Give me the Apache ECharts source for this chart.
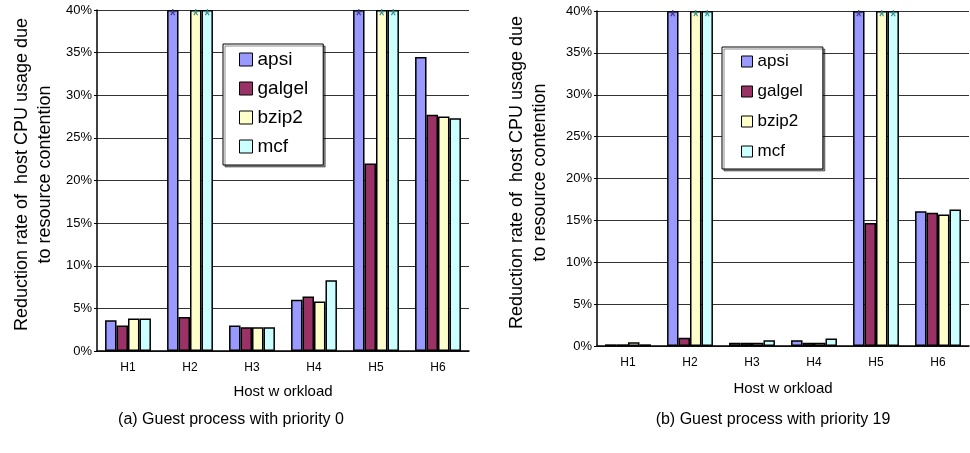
<!DOCTYPE html>
<html>
<head>
<meta charset="utf-8">
<script src="https://cdn.jsdelivr.net/npm/echarts@6/dist/echarts.min.js"></script>
<style>
  html, body { margin: 0; padding: 0; background: #fff; }
  #chart { width: 970px; height: 453px; }
</style>
</head>
<body>
<div id="chart"></div>
<script>
// Host workloads on the x axis, guest benchmarks as the bar series
const hosts = ['H1', 'H2', 'H3', 'H4', 'H5', 'H6'];
const guests = ['apsi', 'galgel', 'bzip2', 'mcf'];

// Bars that run past the top of the 0-40% axis are drawn at the cap and flagged with '*'
const OVER = 40;

// (a) guest process with priority 0 — reduction rate in %
const apsiP0   = [3.6, OVER, 3.0, 6.0, OVER, 34.5];
const galgelP0 = [3.0, 4.0, 2.8, 6.4, 22.0, 27.7];
const bzip2P0  = [3.8, OVER, 2.8, 5.8, OVER, 27.5];
const mcfP0    = [3.8, OVER, 2.8, 8.3, OVER, 27.3];

// (b) guest process with priority 19 — reduction rate in %
const apsiP19   = [0.2, OVER, 0.4, 0.7, OVER, 16.1];
const galgelP19 = [0.2, 1.0, 0.4, 0.4, 14.7, 15.9];
const bzip2P19  = [0.45, OVER, 0.4, 0.4, OVER, 15.7];
const mcfP19    = [0.2, OVER, 0.7, 0.9, OVER, 16.3];

const captions = ['(a) Guest process with priority 0', '(b) Guest process with priority 19'];
const yTitle = 'Reduction rate of  host CPU usage due\nto resource contention';
const xTitle = 'Host w orkload';

const FONT = '"Liberation Sans", Arial, sans-serif';
const fills = ['#9999FF', '#993366', '#FFFFCC', '#CCFFFF'];
const starColors = ['#3b3b80', '#9a9a3a', '#3a8c8c', '#3a8c8c'];

function barSeries(name, idx, values, gridIndex) {
  return {
    type: 'bar',
    name: name,
    xAxisIndex: gridIndex,
    yAxisIndex: gridIndex,
    barGap: '0%',
    barCategoryGap: '26%',
    clip: true,
    itemStyle: { color: fills[idx], borderColor: '#000', borderWidth: 1.5 },
    data: values.map(v => ({
      value: v,
      label: {
        show: v >= OVER,
        formatter: '*',
        position: 'insideTop',
        distance: -2,
        fontSize: 18,
        fontFamily: FONT,
        color: starColors[idx]
      }
    }))
  };
}

function axes(gridIndex, nameGapY, nameGapX) {
  const x = {
    type: 'category', gridIndex: gridIndex, data: hosts,
    axisLine: { lineStyle: { color: '#000', width: 1.5 } },
    axisTick: { show: false },
    axisLabel: { fontFamily: FONT, fontSize: 12, color: '#000', margin: 11 },
    name: xTitle, nameLocation: 'middle', nameGap: nameGapX,
    nameTextStyle: { fontFamily: FONT, fontSize: 15, color: '#000' }
  };
  const y = {
    type: 'value', gridIndex: gridIndex, min: 0, max: 40, interval: 5,
    axisLine: { show: true, lineStyle: { color: '#000', width: 1.5 } },
    axisTick: { show: true, length: 3, lineStyle: { color: '#000' } },
    axisLabel: { formatter: '{value}%', fontFamily: FONT, fontSize: 13, color: '#000', margin: 5 },
    splitLine: { lineStyle: { color: '#333', width: 1 } },
    name: yTitle, nameLocation: 'middle', nameRotate: 90, nameGap: nameGapY,
    nameTextStyle: {
      fontFamily: FONT, fontSize: 18, color: '#000', lineHeight: 23, align: 'center',
      padding: [0, 0, 0, 12]
    }
  };
  return [x, y];
}

function legendBox(left, top, fontSize, padding, itemGap, icon) {
  return {
    orient: 'vertical', left: left, top: top, data: guests,
    backgroundColor: '#fff', borderColor: '#000', borderWidth: 1,
    shadowColor: 'rgba(0,0,0,0.45)', shadowOffsetX: 2, shadowOffsetY: 2, shadowBlur: 0,
    padding: padding, itemGap: itemGap,
    itemWidth: icon, itemHeight: icon, icon: 'rect',
    itemStyle: { borderColor: '#000', borderWidth: 1 },
    textStyle: { fontFamily: FONT, fontSize: fontSize, color: '#000' },
    selectedMode: false
  };
}

const [xa, ya] = axes(0, 40, 33);
const [xb, yb] = axes(1, 45, 35);

const option = {
  animation: false,
  backgroundColor: '#fff',
  grid: [
    { left: 97, width: 372, top: 10, height: 341 },
    { left: 597, width: 372, top: 11, height: 335 }
  ],
  xAxis: [xa, xb],
  yAxis: [ya, yb],
  legend: [
    legendBox(223, 44, 19, [6, 15, 9, 16], 10, 13),
    legendBox(722, 47, 17, [6, 20, 9, 19], 13, 11)
  ],
  series: [
    barSeries('apsi', 0, apsiP0, 0),
    barSeries('galgel', 1, galgelP0, 0),
    barSeries('bzip2', 2, bzip2P0, 0),
    barSeries('mcf', 3, mcfP0, 0),
    barSeries('apsi', 0, apsiP19, 1),
    barSeries('galgel', 1, galgelP19, 1),
    barSeries('bzip2', 2, bzip2P19, 1),
    barSeries('mcf', 3, mcfP19, 1)
  ],
  graphic: [
    { type: 'text', x: 231, y: 420, style: { text: captions[0], font: '16px ' + FONT, fill: '#000', textAlign: 'center', textVerticalAlign: 'middle' } },
    { type: 'text', x: 773, y: 420, style: { text: captions[1], font: '16px ' + FONT, fill: '#000', textAlign: 'center', textVerticalAlign: 'middle' } }
  ]
};

const chart = echarts.init(document.getElementById('chart'), null, { renderer: 'canvas' });
chart.setOption(option);
</script>
</body>
</html>
